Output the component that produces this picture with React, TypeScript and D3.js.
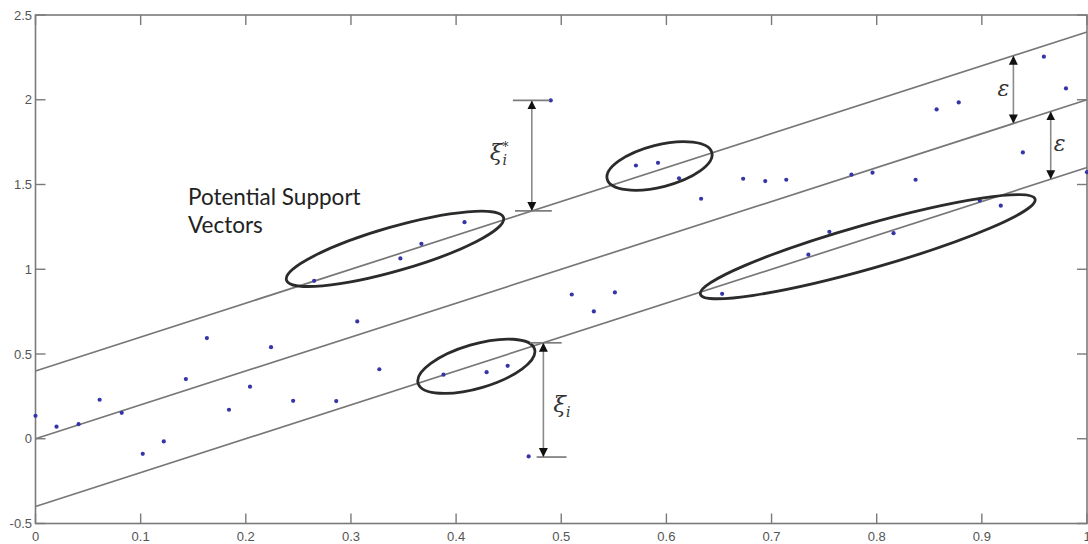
import React from 'react';
import * as d3 from 'd3';

const xValues = [0, 0.020, 0.041, 0.061, 0.082, 0.102, 0.122, 0.143, 0.163, 0.184,
  0.204, 0.224, 0.245, 0.265, 0.286, 0.306, 0.327, 0.347, 0.367, 0.388,
  0.408, 0.429, 0.449, 0.469, 0.490, 0.510, 0.531, 0.551, 0.571, 0.592,
  0.612, 0.633, 0.653, 0.673, 0.694, 0.714, 0.735, 0.755, 0.776, 0.796,
  0.816, 0.837, 0.857, 0.878, 0.898, 0.918, 0.939, 0.959, 0.980, 1.0];
const yValues = [0.135, 0.071, 0.086, 0.23, 0.153, -0.089, -0.016, 0.352, 0.594, 0.171,
  0.307, 0.54, 0.224, 0.932, 0.222, 0.692, 0.41, 1.064, 1.15, 0.378,
  1.278, 0.393, 0.43, -0.104, 1.996, 0.851, 0.751, 0.863, 1.612, 1.628,
  1.537, 1.416, 0.855, 1.534, 1.52, 1.528, 1.086, 1.221, 1.558, 1.57,
  1.213, 1.528, 1.943, 1.984, 1.406, 1.375, 1.689, 2.254, 2.067, 1.573];

const xTicks = [0, 0.1, 0.2, 0.3, 0.4, 0.5, 0.6, 0.7, 0.8, 0.9, 1];
const xTickLabels = ['0', '0.1', '0.2', '0.3', '0.4', '0.5', '0.6', '0.7', '0.8', '0.9', '1'];
const yTicks = [-0.5, 0, 0.5, 1, 1.5, 2, 2.5];
const yTickLabels = ['-0.5', '0', '0.5', '1', '1.5', '2', '2.5'];

const slope = 2;
const intercept = 0;
const epsilon = 0.4;
const tubeOffsets = [epsilon, 0, -epsilon];

// ellipses: major-axis ends in data units, semi-minor in px
const ellipses = [
  { x1: 0.2373, y1: 0.934, x2: 0.4465, y2: 1.307, ry: 22 },
  { x1: 0.5423, y1: 1.529, x2: 0.6446, y2: 1.690, ry: 21 },
  { x1: 0.3625, y1: 0.3245, x2: 0.476, y2: 0.531, ry: 22 },
  { x1: 0.631, y1: 0.850, x2: 0.952, y2: 1.416, ry: 22 },
];

// slack arrows (xi*, xi)
const slackArrows = [
  { x: 0.472, y1: 1.996, y2: 1.344, bar1: [0.454, 0.489], bar2: [0.456, 0.491], label: 'star' },
  { x: 0.483, y1: 0.566, y2: -0.108, bar1: [0.4703, 0.5004], bar2: [0.4766, 0.505], label: 'plain' },
];

// epsilon arrows: x position and which tube band (from offset to offset)
const epsArrows = [
  { x: 0.93, from: epsilon, to: 0, side: 'left' },
  { x: 0.9655, from: 0, to: -epsilon, side: 'right' },
];

const W = 1088;
const H = 544;

export default function App() {
  const x = d3.scaleLinear().domain([0, 1]).range([35.5, 1087]);
  const y = d3.scaleLinear().domain([-0.5, 2.5]).range([523.5, 15]);
  const tubeY = (xv: number, off: number) => slope * xv + intercept + off;
  const line = d3.line<[number, number]>().x(d => x(d[0])).y(d => y(d[1]));
  const axisColor = '#7a7a7a';
  const tickLen = 10;
  const tickFont = '"Liberation Sans", Arial, sans-serif';
  const mathFont = '"DejaVu Serif", serif';

  return (
    <svg width={W} height={H} style={{ position: 'absolute', left: 0, top: 0, background: '#fff' }}>
      <defs>
        <marker id="ah" viewBox="0 0 10 10" refX="10" refY="5" markerWidth="9" markerHeight="11"
          markerUnits="userSpaceOnUse" orient="auto-start-reverse">
          <path d="M0,0 L10,5 L0,10 Z" fill="#111" />
        </marker>
      </defs>
      <rect x={0} y={0} width={W} height={H} fill="#fff" />

      {/* tube lines */}
      {tubeOffsets.map((off, i) => (
        <path key={i} d={line([[0, tubeY(0, off)], [1, tubeY(1, off)]]) || ''}
          stroke="#777" strokeWidth={1.7} fill="none" />
      ))}

      {/* frame */}
      <rect x={x(0)} y={y(2.5)} width={x(1) - x(0)} height={y(-0.5) - y(2.5)}
        fill="none" stroke={axisColor} strokeWidth={1.6} />

      {/* ticks */}
      {xTicks.map((t, i) => (
        <g key={'xt' + i}>
          <line x1={x(t)} x2={x(t)} y1={y(-0.5)} y2={y(-0.5) - tickLen} stroke={axisColor} strokeWidth={1.4} />
          <line x1={x(t)} x2={x(t)} y1={y(2.5)} y2={y(2.5) + tickLen} stroke={axisColor} strokeWidth={1.4} />
          <text x={x(t)} y={541} textAnchor="middle" fontFamily={tickFont} fontSize={13} fill="#555">{xTickLabels[i]}</text>
        </g>
      ))}
      {yTicks.map((t, i) => (
        <g key={'yt' + i}>
          <line x1={x(0)} x2={x(0) + tickLen} y1={y(t)} y2={y(t)} stroke={axisColor} strokeWidth={1.4} />
          <line x1={x(1)} x2={x(1) - tickLen} y1={y(t)} y2={y(t)} stroke={axisColor} strokeWidth={1.4} />
          <text x={32} y={y(t)} dy="0.35em" textAnchor="end" fontFamily={tickFont} fontSize={13} fill="#555">{yTickLabels[i]}</text>
        </g>
      ))}

      {/* data points */}
      {xValues.map((xv, i) => (
        <circle key={'p' + i} cx={x(xv)} cy={y(yValues[i])} r={2.1} fill="#3535a8" />
      ))}

      {/* ellipses */}
      {ellipses.map((e, i) => {
        const px1 = x(e.x1), py1 = y(e.y1), px2 = x(e.x2), py2 = y(e.y2);
        const cx = (px1 + px2) / 2, cy = (py1 + py2) / 2;
        const rx = Math.hypot(px2 - px1, py2 - py1) / 2 - 1.5;
        const ang = (Math.atan2(py2 - py1, px2 - px1) * 180) / Math.PI;
        return (
          <ellipse key={'e' + i} cx={cx} cy={cy} rx={rx} ry={e.ry}
            transform={`rotate(${ang} ${cx} ${cy})`} fill="none" stroke="#2b2b2b" strokeWidth={2.8} />
        );
      })}

      {/* slack arrows */}
      {slackArrows.map((s, i) => (
        <g key={'s' + i}>
          <line x1={x(s.bar1[0])} x2={x(s.bar1[1])} y1={y(s.y1)} y2={y(s.y1)} stroke="#7c7c7c" strokeWidth={1.7} />
          <line x1={x(s.bar2[0])} x2={x(s.bar2[1])} y1={y(s.y2)} y2={y(s.y2)} stroke="#7c7c7c" strokeWidth={1.7} />
          <line x1={x(s.x)} x2={x(s.x)} y1={y(s.y1)} y2={y(s.y2)} stroke="#8a8a8a" strokeWidth={1.6}
            markerStart="url(#ah)" markerEnd="url(#ah)" />
          {s.label === 'star' ? (
            <text x={x(s.x) - 42} y={160} fontFamily={mathFont} fill="#333" fontStyle="italic" fontSize={23}>ξ<tspan fontSize={12} fontStyle="normal" dy={-9}>*</tspan><tspan fontSize={14} dx={-6} dy={14}>i</tspan></text>
          ) : (
            <text x={x(s.x) + 10} y={412} fontFamily={mathFont} fill="#333" fontStyle="italic" fontSize={23}>ξ<tspan fontSize={14} dy={5}>i</tspan></text>
          )}
        </g>
      ))}

      {/* epsilon arrows */}
      {epsArrows.map((a, i) => (
        <g key={'ea' + i}>
          <line x1={x(a.x)} x2={x(a.x)} y1={y(tubeY(a.x, a.from))} y2={y(tubeY(a.x, a.to))}
            stroke="#8a8a8a" strokeWidth={1.6} markerStart="url(#ah)" markerEnd="url(#ah)" />
          <text x={a.side === 'left' ? x(a.x) - 16 : x(a.x) + 3}
            y={(y(tubeY(a.x, a.from)) + y(tubeY(a.x, a.to))) / 2 + 6}
            fontFamily={mathFont} fontStyle="italic" fontSize={22} fill="#333">ε</text>
        </g>
      ))}

      {/* annotation text */}
      <g fontFamily='Lato, "Open Sans", sans-serif' fontSize={22.5} fill="#222">
        <text x={188} y={205}>Potential Support</text>
        <text x={188} y={233}>Vectors</text>
      </g>
    </svg>
  );
}
